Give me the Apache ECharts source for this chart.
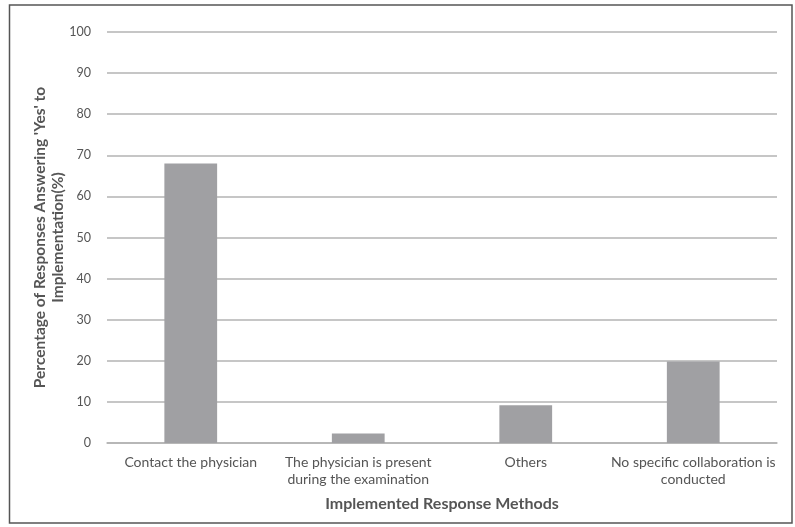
<!DOCTYPE html>
<html>
<head>
<meta charset="utf-8">
<script src="https://cdn.jsdelivr.net/npm/echarts@6/dist/echarts.min.js"></script>
<style>
  html, body { margin: 0; padding: 0; background: #fff; }
  #chart { width: 795px; height: 527px; }
</style>
</head>
<body>
<div id="chart"></div>
<script>
// Response methods and share of "Yes" answers (%)
const categories = [
  'Contact the physician',
  'The physician is present\nduring the examination',
  'Others',
  'No specific collaboration is\nconducted'
];
const values = [68, 2.3, 9.2, 19.8];
const yTicks = { min: 0, max: 100, interval: 10 };

const FONT = 'Lato, "Open Sans", sans-serif';
const TEXT = '#555555';

const chart = echarts.init(document.getElementById('chart'), null, { renderer: 'canvas' });
chart.setOption({
  backgroundColor: '#ffffff',
  animation: false,
  graphic: [{
    type: 'rect',
    shape: { x: 9.5, y: 5, width: 782.5, height: 518 },
    style: { fill: 'none', stroke: '#555555', lineWidth: 1.5 },
    silent: true
  }],
  grid: { left: 107, right: 18, top: 32, bottom: 84, containLabel: false },
  xAxis: {
    type: 'category',
    data: categories,
    name: 'Implemented Response Methods',
    nameLocation: 'middle',
    nameGap: 53,
    nameMoveOverlap: false,
    nameTextStyle: { fontFamily: FONT, fontSize: 16, fontWeight: 'bold', color: TEXT },
    axisLine: { lineStyle: { color: '#b3b3b3', width: 1.5 } },
    axisTick: { show: false },
    axisLabel: {
      fontFamily: FONT, fontSize: 14, color: TEXT, margin: 11,
      lineHeight: 17, interval: 0
    }
  },
  yAxis: {
    type: 'value',
    min: yTicks.min,
    max: yTicks.max,
    interval: yTicks.interval,
    name: "Percentage of Responses Answering 'Yes' to\nImplementation(%)",
    nameLocation: 'middle',
    nameGap: 40,
    nameMoveOverlap: false,
    nameTextStyle: { fontFamily: FONT, fontSize: 15.5, fontWeight: 'bold', color: TEXT, lineHeight: 18 },
    axisLine: { show: false },
    axisTick: { show: false },
    axisLabel: { fontFamily: FONT, fontSize: 12.5, color: TEXT, margin: 16 },
    splitLine: { lineStyle: { color: '#b3b3b3', width: 1.5 } }
  },
  series: [{
    type: 'bar',
    data: values,
    barWidth: '31.5%',
    itemStyle: { color: '#a0a0a3' }
  }]
});
</script>
</body>
</html>
